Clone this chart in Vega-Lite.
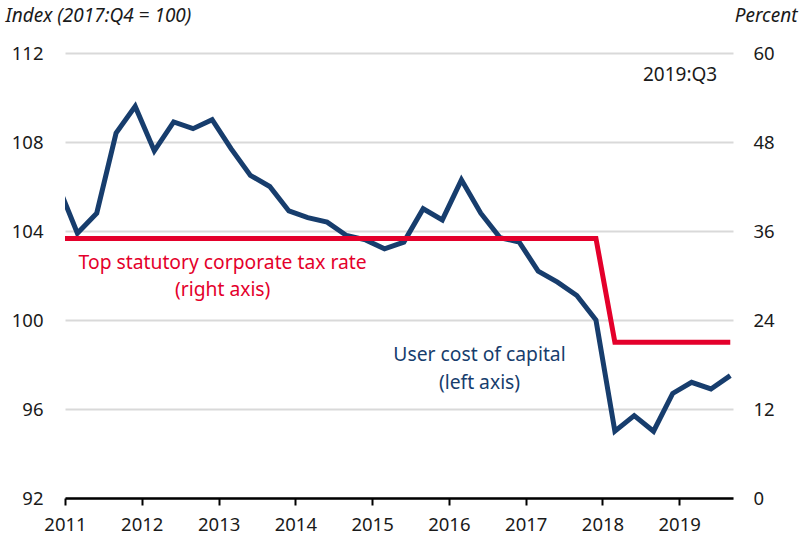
{
  "$schema": "https://vega.github.io/schema/vega-lite/v6.json",
  "width": 668,
  "height": 445,
  "autosize": "none",
  "padding": {"left": 65, "top": 53, "right": 71, "bottom": 43},
  "background": "white",
  "config": {
    "font": "Noto Sans",
    "view": {"stroke": null},
    "axis": {"labelFont": "Noto Sans", "labelFontSize": 18.5, "labelColor": "#1a1a1a", "titleFont": "Noto Sans"}
  },
  "datasets": {
    "series": [
      {"date": "2010-12-01", "uc": 106.0, "rate": 35},
      {"date": "2011-03-01", "uc": 103.9, "rate": 35},
      {"date": "2011-06-01", "uc": 104.8, "rate": 35},
      {"date": "2011-09-01", "uc": 108.4, "rate": 35},
      {"date": "2011-12-01", "uc": 109.6, "rate": 35},
      {"date": "2012-03-01", "uc": 107.6, "rate": 35},
      {"date": "2012-06-01", "uc": 108.9, "rate": 35},
      {"date": "2012-09-01", "uc": 108.6, "rate": 35},
      {"date": "2012-12-01", "uc": 109.0, "rate": 35},
      {"date": "2013-03-01", "uc": 107.7, "rate": 35},
      {"date": "2013-06-01", "uc": 106.5, "rate": 35},
      {"date": "2013-09-01", "uc": 106.0, "rate": 35},
      {"date": "2013-12-01", "uc": 104.9, "rate": 35},
      {"date": "2014-03-01", "uc": 104.6, "rate": 35},
      {"date": "2014-06-01", "uc": 104.4, "rate": 35},
      {"date": "2014-09-01", "uc": 103.8, "rate": 35},
      {"date": "2014-12-01", "uc": 103.6, "rate": 35},
      {"date": "2015-03-01", "uc": 103.2, "rate": 35},
      {"date": "2015-06-01", "uc": 103.5, "rate": 35},
      {"date": "2015-09-01", "uc": 105.0, "rate": 35},
      {"date": "2015-12-01", "uc": 104.5, "rate": 35},
      {"date": "2016-03-01", "uc": 106.3, "rate": 35},
      {"date": "2016-06-01", "uc": 104.8, "rate": 35},
      {"date": "2016-09-01", "uc": 103.7, "rate": 35},
      {"date": "2016-12-01", "uc": 103.5, "rate": 35},
      {"date": "2017-03-01", "uc": 102.2, "rate": 35},
      {"date": "2017-06-01", "uc": 101.7, "rate": 35},
      {"date": "2017-09-01", "uc": 101.1, "rate": 35},
      {"date": "2017-12-01", "uc": 100.0, "rate": 35},
      {"date": "2018-03-01", "uc": 95.0, "rate": 21},
      {"date": "2018-06-01", "uc": 95.7, "rate": 21},
      {"date": "2018-09-01", "uc": 95.0, "rate": 21},
      {"date": "2018-12-01", "uc": 96.7, "rate": 21},
      {"date": "2019-03-01", "uc": 97.2, "rate": 21},
      {"date": "2019-06-01", "uc": 96.9, "rate": 21},
      {"date": "2019-09-01", "uc": 97.5, "rate": 21}
    ],
    "notes": [
      {"date": "2013-01-20", "v": 102.56, "label": "Top statutory corporate tax rate", "kind": "red"},
      {"date": "2013-01-20", "v": 101.35, "label": "(right axis)", "kind": "red"},
      {"date": "2016-05-26", "v": 98.43, "label": "User cost of capital", "kind": "blue"},
      {"date": "2016-05-26", "v": 97.17, "label": "(left axis)", "kind": "blue"}
    ],
    "corner": [
      {"date": "2019-07-01", "v": 111.0, "label": "2019:Q3"}
    ]
  },
  "layer": [
    {
      "layer": [
        {
          "data": {"name": "series"},
          "mark": {"type": "line", "color": "#173d6d", "strokeWidth": 5, "clip": true, "strokeJoin": "miter", "strokeCap": "butt"},
          "encoding": {
            "x": {
              "field": "date", "type": "temporal",
              "scale": {"type": "utc", "domain": [{"year": 2011, "month": 1, "date": 1, "utc": true}, {"year": 2019, "month": 9, "date": 14, "utc": true}]},
              "axis": {
                "values": [{"year": 2011, "utc": true}, {"year": 2012, "utc": true}, {"year": 2013, "utc": true}, {"year": 2014, "utc": true}, {"year": 2015, "utc": true}, {"year": 2016, "utc": true}, {"year": 2017, "utc": true}, {"year": 2018, "utc": true}, {"year": 2019, "utc": true}],
                "format": "%Y", "formatType": "utc",
                "title": null, "grid": false,
                "domainColor": "#000000", "domainWidth": 2.5,
                "tickColor": "#000000", "tickWidth": 2, "tickSize": 7,
                "labelPadding": 10, "labelAlign": "center", "labelFlush": false
              }
            },
            "y": {
              "field": "uc", "type": "quantitative",
              "scale": {"domain": [92, 112], "nice": false, "zero": false},
              "axis": {
                "orient": "left", "values": [92, 96, 100, 104, 108, 112],
                "domain": false, "ticks": false, "labelPadding": 22,
                "grid": true, "gridColor": "#d9d9d9", "gridWidth": 2,
                "title": "Index (2017:Q4 = 100)", "titleAngle": 0, "titleAlign": "left",
                "titleX": -60, "titleY": -32, "titleBaseline": "alphabetic",
                "titleFontSize": 19, "titleFontStyle": "italic", "titleFontWeight": "normal", "titleColor": "#1a1a1a"
              }
            }
          }
        },
        {
          "data": {"name": "notes"},
          "mark": {"type": "text", "fontSize": 19.3, "align": "center", "baseline": "middle"},
          "encoding": {
            "x": {"field": "date", "type": "temporal"},
            "y": {"field": "v", "type": "quantitative"},
            "text": {"field": "label"},
            "color": {"field": "kind", "type": "nominal", "scale": {"domain": ["red", "blue"], "range": ["#e4002b", "#173d6d"]}, "legend": null}
          }
        },
        {
          "data": {"name": "corner"},
          "mark": {"type": "text", "fontSize": 19, "align": "right", "baseline": "middle", "color": "#1a1a1a"},
          "encoding": {
            "x": {"field": "date", "type": "temporal"},
            "y": {"field": "v", "type": "quantitative"},
            "text": {"field": "label"}
          }
        }
      ]
    },
    {
      "data": {"name": "series"},
      "mark": {"type": "line", "color": "#e4002b", "strokeWidth": 5, "clip": true, "strokeJoin": "miter", "strokeCap": "butt"},
      "encoding": {
        "x": {"field": "date", "type": "temporal"},
        "y": {
          "field": "rate", "type": "quantitative",
          "scale": {"domain": [0, 60], "nice": false},
          "axis": {
            "orient": "right", "values": [0, 12, 24, 36, 48, 60],
            "domain": false, "ticks": false, "grid": false, "labelPadding": 20,
            "title": "Percent", "titleAngle": 0, "titleAlign": "right",
            "titleX": 64, "titleY": -32, "titleBaseline": "alphabetic",
            "titleFontSize": 19, "titleFontStyle": "italic", "titleFontWeight": "normal", "titleColor": "#1a1a1a"
          }
        }
      }
    }
  ],
  "resolve": {"scale": {"y": "independent"}}
}
